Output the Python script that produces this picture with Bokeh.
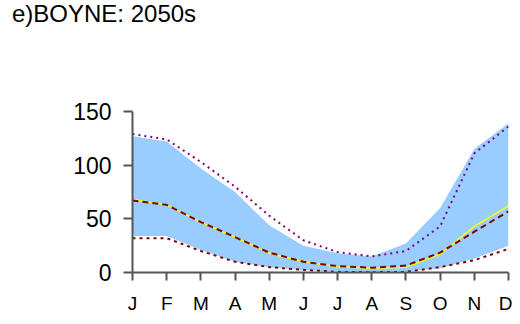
from bokeh.plotting import figure
from bokeh.models import FixedTicker, ColumnDataSource, Div
from bokeh.layouts import column
from bokeh.embed import file_html
from bokeh.resources import INLINE

months = ["J", "F", "M", "A", "M", "J", "J", "A", "S", "O", "N", "D"]
x_idx = list(range(12))
band_upper = [127, 122, 97, 75, 44, 25, 18, 15, 27, 60, 115, 139]
band_lower = [34, 34, 21, 10, 5, 2, 1, 0.5, 1, 4, 13, 25]
mean_line = [68, 63, 47, 33, 18, 10, 5.5, 4, 5, 17, 43, 62]
central_line = [67, 63, 47, 33, 18.5, 10, 6, 4.5, 6.5, 18.5, 38, 57]
upper_line = [129, 124, 103, 80, 53, 30, 19, 15, 20, 43, 111, 136]
lower_line = [32, 32, 20, 10, 5, 2.5, 0.6, 0.3, 0.6, 5, 11.5, 22]
y_ticks = [0, 50, 100, 150]
title_text = "e)BOYNE: 2050s"

src = ColumnDataSource(dict(x=x_idx, up=band_upper, lo=band_lower, mean=mean_line,
                            cen=central_line, uq=upper_line, lq=lower_line))

title_div = Div(text=title_text, width=512, height=30, margin=(0, 0, 0, 0),
                styles={"font-family": "Liberation Sans", "font-size": "24px",
                        "line-height": "28px", "color": "black", "padding-left": "12px",
                        "white-space": "nowrap"})

p = figure(width=512, height=286, output_backend="svg", toolbar_location=None,
           x_range=(0, 11), y_range=(0, 150), margin=(0, 0, 0, 0),
           min_border_left=132, min_border_right=4, min_border_top=81, min_border_bottom=42)
p.outline_line_color = None
p.grid.visible = False
p.background_fill_color = "white"

p.varea(x="x", y1="lo", y2="up", source=src, fill_color="#99CCFF")
p.line(x="x", y="uq", source=src, line_color="#800080", line_width=2, line_dash="2 4")
p.line(x="x", y="lq", source=src, line_color="#800000", line_width=2, line_dash="3 4")
p.line(x="x", y="mean", source=src, line_color="#FFFF00", line_width=1.5)
p.line(x="x", y="cen", source=src, line_color="#800000", line_width=2, line_dash="6 4")

for ax in (p.xaxis[0], p.yaxis[0]):
    ax.axis_line_color = "#555555"
    ax.axis_line_width = 2
    ax.major_tick_line_color = "#555555"
    ax.major_tick_line_width = 2
    ax.minor_tick_line_color = None
    ax.major_tick_in = 0
    ax.major_label_text_font = "Liberation Sans"
    ax.major_label_text_color = "black"

p.xaxis.ticker = FixedTicker(ticks=x_idx)
p.xaxis.major_label_overrides = {i: m for i, m in enumerate(months)}
p.xaxis.major_tick_out = 8
p.xaxis.major_label_standoff = 12
p.xaxis.major_label_text_font_size = "19px"
p.yaxis.ticker = FixedTicker(ticks=y_ticks)
p.yaxis.major_tick_out = 9
p.yaxis.major_label_standoff = 12
p.yaxis.major_label_text_font_size = "23px"

layout = column(title_div, p, spacing=0)
open("out.html", "w").write(file_html(layout, INLINE))
